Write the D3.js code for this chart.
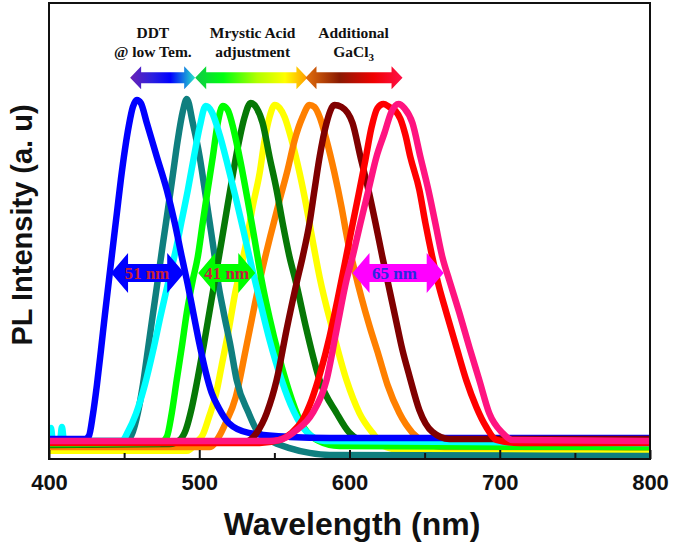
<!DOCTYPE html>
<html>
<head>
<meta charset="utf-8">
<script src="https://cdn.jsdelivr.net/npm/d3@7"></script>
<style>
  html, body { margin: 0; padding: 0; background: #ffffff; }
  svg { display: block; }
</style>
</head>
<body>
<svg id="chart" width="675" height="554"></svg>
<script>
// ---------------- data (wavelength nm, PL intensity a.u.) ----------------
const xTickValues = [400, 500, 600, 700, 800];
const xMinorTickValues = [450, 550, 650, 750];

const seriesNames = ["blue", "teal", "cyan", "lime", "darkGreen", "yellow", "orange", "maroon", "red", "pink"];
const seriesColors = ["#0000ff", "#0f7f7f", "#00ffff", "#00ff00", "#067806", "#ffff00", "#ff8000", "#800000", "#ff0000", "#ff1480"];

const blueSeries = [[400,0.3],[423.9,0.3],[426.6,1.2],[429.2,7.4],[431.9,16.2],[434.6,26.5],[437.2,36.8],[439.9,47],[442.5,56.8],[445.2,66.8],[447.8,76.5],[450.5,85.3],[453.2,92.6],[455.8,97.9],[458.5,100],[461.1,99.1],[465.1,93.2],[471.8,83.2],[478.4,73.5],[483.7,63.8],[488.4,53.8],[492.4,45.6],[496.3,36.8],[500.3,27.9],[504.3,20],[508.3,13.8],[513,9.4],[519.6,5],[532.9,2.1],[560.1,0.9],[586.7,0.6],[800,0.6]];
const tealSeries = [[400,-0.3],[450,-0.3],[452.5,0],[455.8,2.4],[459.1,7.9],[462.5,16.2],[465.8,26.5],[469.1,36.8],[472.4,47],[475.7,57.4],[479.1,67.6],[482.4,77.9],[485.7,88.2],[489,96.5],[491.7,100.3],[495.7,93.2],[500.3,83.2],[503.7,73.5],[507,63.8],[510.3,53.8],[512.3,47],[516.3,37.4],[520.9,27.4],[524.9,17.6],[532.9,7.9],[538.2,2.9],[546.8,0],[560.1,-2.4],[573.4,-3.8],[586.7,-4.4],[800,-4.7]];
const cyanSeries = [[400,0.6],[401.3,3.5],[402.6,-0.3],[407.3,-0.3],[408.6,3.8],[410,-0.3],[448.5,-0.3],[452.5,2.4],[457.8,7.6],[463.8,16.2],[469.1,25.9],[474.4,36.8],[479.7,47],[484.4,55.9],[488.4,64.7],[492.4,73.5],[496.3,82.9],[500.3,92.1],[504.3,98.2],[508.3,96.5],[513.6,89.7],[518.9,80.9],[524.3,71.2],[529.6,61.2],[534.9,50.9],[540.2,41.2],[546.8,29.4],[554.8,17.6],[562.8,8.5],[571.4,2.4],[583.4,-0.3],[800,-1]];
const limeSeries = [[400,-1.2],[473.8,-0.9],[478.4,0.9],[481.7,7.9],[485,17.6],[488.4,27.4],[491.7,37.4],[495.7,47],[499,53.8],[502.3,63.8],[505.6,73.5],[509,83.2],[512.3,93.2],[515.6,98.2],[518.9,97.1],[522.9,91.2],[527.6,81.5],[532.2,70.6],[536.9,58.8],[541.5,47],[546.8,35.9],[552.8,25],[559.5,14.7],[566.8,5.9],[578.1,0],[593.4,-1.8],[800,-2.1]];
const darkGreenSeries = [[400,-1.5],[480.4,-1.2],[487,0],[491,2.9],[495,9.4],[499,18.2],[503,27.9],[507,38.2],[511,48.5],[515,58.8],[518.9,69.1],[522.9,79.4],[526.9,88.8],[530.2,95],[534.2,99.1],[538.2,97.6],[542.2,93.2],[546.8,83.2],[551.5,73.5],[555.5,63.8],[560.1,53.8],[564.1,46.8],[571.4,32.4],[580.1,17.6],[591.4,7.9],[600,2.1],[613.3,-0.9],[800,-2.1]];
const yellowSeries = [[400,-3.2],[491.7,-3.2],[499,-0.3],[502.3,1.5],[506.3,6.5],[511,13.2],[515,22.1],[519.6,32.4],[524.3,44.1],[526.9,49.1],[531.6,58.8],[535.5,68.5],[540.2,78.5],[543.5,88.2],[546.8,95],[550.2,98.5],[553.5,97.6],[556.8,95],[561.5,88.2],[566.8,78.5],[571.4,68.5],[575.4,58.8],[580.1,47.9],[588.7,32.4],[598,17.6],[606.6,7.9],[615.3,2.1],[624.6,-2.1],[639.9,-3.2],[800,-3.5]];
const orangeSeries = [[400,-2.1],[507,-2.1],[513,0.9],[517.6,5],[524.3,12.6],[530.9,26.5],[536.9,39.7],[542.2,50.6],[547.5,60.3],[553.5,70.6],[558.8,79.4],[563.5,88.2],[568.8,95],[573.4,98.5],[576.7,97.9],[580.1,95],[584.7,88.2],[590,78.5],[594.7,68.5],[598.7,58.8],[603.3,50],[608,41.8],[613.3,33.5],[619.3,25],[625.3,16.2],[633.2,7.9],[641.9,2.1],[651.2,-0.9],[663.1,-2.1],[800,-2.1]];
const maroonSeries = [[400,-0.6],[530.2,-0.6],[538.2,2.1],[544.9,7.9],[551.5,17.6],[558.1,32.4],[564.8,46.2],[568.8,53.8],[573.4,63.8],[576.7,73.5],[580.1,83.2],[584.7,93.2],[590,98.5],[594.7,97.9],[602,93.2],[607.3,83.2],[612.6,73.5],[617.3,63.8],[621.9,53.8],[625.9,45.6],[630.6,35.9],[635.2,26.5],[639.9,18.8],[646.5,8.8],[655.1,2.4],[666.4,0.3],[800,0.3]];
const redSeries = [[400,-0.9],[540.2,-0.9],[553.5,0],[561.5,2.1],[568.8,5.9],[574.8,11.8],[580.7,20],[586.7,30.3],[592,41.2],[596.7,51.5],[601.3,61.8],[606,72.1],[610.6,82.4],[614.6,91.8],[618.6,97.6],[622.6,98.8],[626.6,97.9],[630.6,96.8],[633.9,94.4],[637.2,89.7],[640.5,83.2],[646.5,73.5],[650.5,63.8],[655.1,53.8],[658.5,47],[664.5,37.4],[671.1,27.4],[677.7,17.6],[684.4,9.7],[691,3.8],[697.7,0],[713,-0.9],[800,-0.9]];
const pinkSeries = [[400,-0.3],[546.8,-0.3],[553.5,0],[564.8,2.9],[575.4,7.9],[584.7,17.6],[591.4,32.4],[598,47],[602,53.8],[607.3,63.8],[612.6,73.5],[617.9,83.2],[623.3,90.3],[627.9,96.5],[632.6,98.8],[636.5,97.6],[641.9,93.2],[647.2,83.2],[652.5,73.5],[657.1,63.8],[661.8,53.8],[666.4,47],[673.1,37.4],[679.7,27.4],[686.4,17.6],[693,7.9],[701.7,2.1],[708.3,0],[800,-0.3]];

// annotations
const stageArrowStart = [454, 497.3, 570.7];
const stageArrowEnd = [497.3, 572, 635.3];
const stageArrowLevel = 106.5;
const stageLabelCenter = [469.1, 535.5, 602.7];
const stageLabelLine1 = ["DDT", "Mrystic Acid", "Additional"];
const stageLabelLine2 = ["@ low Tem.", "adjustment", "GaCl"];

const fwhmStart = [441.3, 499.3, 602];
const fwhmEnd = [490, 537.3, 662.7];
const fwhmLevel = 49.1;
const fwhmLabelCenter = [465.1, 518.3, 629.9];
const fwhmLabels = ["51 nm", "41 nm", "65 nm"];
const fwhmFill = ["#0000ff", "#00ff00", "#ff00ff"];
const fwhmTextColor = ["#c8203a", "#c8203a", "#2a2ae0"];

// ---------------- chart ----------------
const svg = d3.select("#chart");
const plotLeft = 49, plotRight = 650, plotTop = 3, plotBottom = 459;

const x = d3.scaleLinear().domain([400, 800]).range([plotLeft, plotRight]);
const y = d3.scaleLinear().domain([-5.6, 128.5]).range([plotBottom, plotTop]);

const defs = svg.append("defs");
defs.append("clipPath").attr("id", "plotClip")
  .append("rect").attr("x", plotLeft).attr("y", plotTop).attr("width", plotRight - plotLeft).attr("height", plotBottom - plotTop);

const allSeries = [blueSeries, tealSeries, cyanSeries, limeSeries, darkGreenSeries, yellowSeries, orangeSeries, maroonSeries, redSeries, pinkSeries];

const line = d3.line().x(d => x(d[0])).y(d => y(d[1])).curve(d3.curveMonotoneX);

const plot = svg.append("g").attr("clip-path", "url(#plotClip)");
const drawOrder = [5, 6, 1, 4, 3, 2, 0, 7, 8, 9];
drawOrder.forEach(i => {
  plot.append("path")
    .datum(allSeries[i])
    .attr("d", line)
    .attr("fill", "none")
    .attr("stroke", seriesColors[i])
    .attr("stroke-width", 6.5)
    .attr("stroke-linejoin", "round")
    .attr("stroke-linecap", "round")
    .attr("class", "series-" + seriesNames[i]);
});

// frame
svg.append("rect")
  .attr("x", plotLeft).attr("y", plotTop).attr("width", plotRight - plotLeft).attr("height", plotBottom - plotTop)
  .attr("fill", "none").attr("stroke", "#111").attr("stroke-width", 2);

// x axis
const xAxis = svg.append("g").attr("transform", `translate(0,${plotBottom})`)
  .call(d3.axisBottom(x).tickValues(xTickValues).tickSizeInner(-9).tickSizeOuter(0).tickFormat(d3.format("d")));
xAxis.select(".domain").remove();
xAxis.selectAll(".tick line").attr("stroke", "#111").attr("stroke-width", 2);
xAxis.selectAll(".tick text")
  .attr("y", 31).attr("dy", 0)
  .attr("fill", "#111")
  .style("font-family", "'Liberation Sans', Arial, sans-serif")
  .style("font-weight", "bold")
  .style("font-size", "22px");

const xMinor = svg.append("g").attr("transform", `translate(0,${plotBottom})`)
  .call(d3.axisBottom(x).tickValues(xMinorTickValues).tickSizeInner(-6).tickSizeOuter(0).tickFormat(""));
xMinor.select(".domain").remove();
xMinor.selectAll(".tick line").attr("stroke", "#111").attr("stroke-width", 2);

// axis titles
svg.append("text")
  .attr("x", 352).attr("y", 535)
  .attr("text-anchor", "middle")
  .style("font-family", "'Liberation Sans', Arial, sans-serif")
  .style("font-weight", "bold").style("font-size", "32px")
  .attr("fill", "#111")
  .text("Wavelength (nm)");

svg.append("text")
  .attr("transform", "translate(32,225) rotate(-90)")
  .attr("text-anchor", "middle")
  .style("font-family", "'Liberation Sans', Arial, sans-serif")
  .style("font-weight", "bold").style("font-size", "29px")
  .attr("fill", "#111")
  .text("PL Intensity (a. u)");

function doubleArrow(x1, x2, yc, shaftH, headH, headL) {
  const p = [
    [x1, yc], [x1 + headL, yc - headH], [x1 + headL, yc - shaftH],
    [x2 - headL, yc - shaftH], [x2 - headL, yc - headH], [x2, yc],
    [x2 - headL, yc + headH], [x2 - headL, yc + shaftH],
    [x1 + headL, yc + shaftH], [x1 + headL, yc + headH]
  ];
  return "M" + p.map(q => q.join(",")).join("L") + "Z";
}

const gradStops = [
  [["0", "#6a22b4"], ["0.35", "#2a1fe0"], ["0.62", "#0000ff"], ["1", "#26e6c8"]],
  [["0", "#10c848"], ["0.25", "#00ff10"], ["0.55", "#b0ff00"], ["0.8", "#ffff00"], ["1", "#ff9a00"]],
  [["0", "#e4700c"], ["0.35", "#8a1a02"], ["0.7", "#f00000"], ["1", "#ff1048"]]
];
gradStops.forEach((stops, i) => {
  const g = defs.append("linearGradient").attr("id", "stageGrad" + i)
    .attr("gradientUnits", "userSpaceOnUse")
    .attr("x1", x(stageArrowStart[i])).attr("x2", x(stageArrowEnd[i]))
    .attr("y1", 0).attr("y2", 0);
  stops.forEach(s => g.append("stop").attr("offset", s[0]).attr("stop-color", s[1]));
});

const stageG = svg.append("g");
stageArrowStart.forEach((s, i) => {
  stageG.append("path")
    .attr("d", doubleArrow(x(s), x(stageArrowEnd[i]), y(stageArrowLevel), 5.5, 11.5, 11))
    .attr("fill", `url(#stageGrad${i})`);
});

const serif = "'Liberation Serif', 'Times New Roman', serif";
stageLabelCenter.forEach((c, i) => {
  stageG.append("text")
    .attr("x", x(c)).attr("y", 38)
    .attr("text-anchor", "middle")
    .style("font-family", serif).style("font-weight", "bold").style("font-size", "15.5px")
    .attr("fill", "#111")
    .text(stageLabelLine1[i]);
  const t2 = stageG.append("text")
    .attr("x", x(c)).attr("y", 57)
    .attr("text-anchor", "middle")
    .style("font-family", serif).style("font-weight", "bold").style("font-size", "15.5px")
    .attr("fill", "#111")
    .text(stageLabelLine2[i]);
  if (i === 2) {
    t2.append("tspan").attr("dy", 4).style("font-size", "11px").text("3");
  }
});

const fwhmG = svg.append("g");
fwhmStart.forEach((s, i) => {
  fwhmG.append("path")
    .attr("d", doubleArrow(x(s), x(fwhmEnd[i]), y(fwhmLevel), 9, 20, 17))
    .attr("fill", fwhmFill[i]);
  fwhmG.append("text")
    .attr("x", x(fwhmLabelCenter[i])).attr("y", y(fwhmLevel) + 6)
    .attr("text-anchor", "middle")
    .style("font-family", serif).style("font-weight", "bold").style("font-size", "17px")
    .attr("fill", fwhmTextColor[i])
    .text(fwhmLabels[i]);
});
</script>
</body>
</html>
